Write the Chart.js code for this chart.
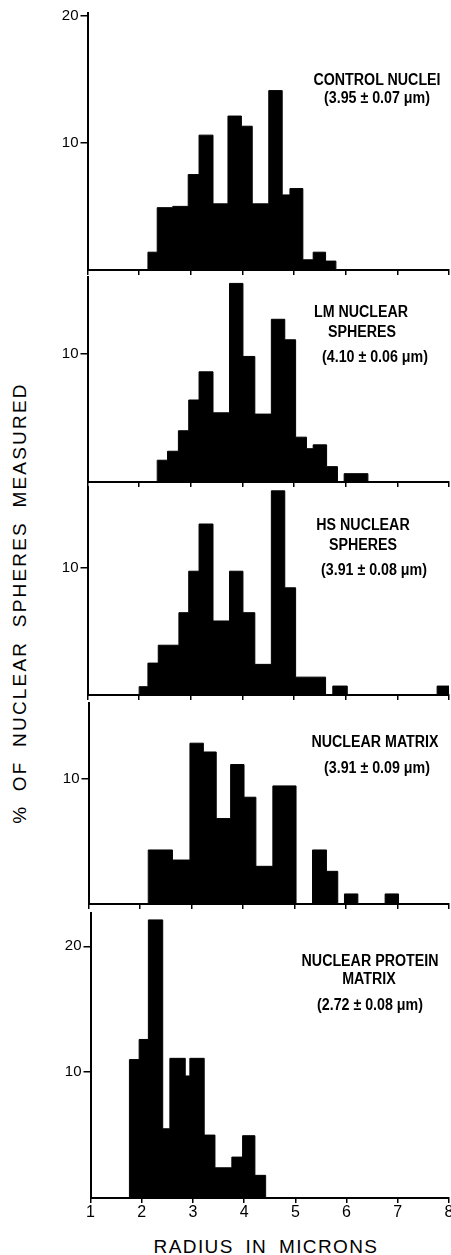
<!DOCTYPE html>
<html>
<head>
<meta charset="utf-8">
<script src="https://cdn.jsdelivr.net/npm/chart.js@4.4.1/dist/chart.umd.min.js"></script>
<style>
  html, body { margin: 0; padding: 0; background: #fff; overflow: hidden; }
  #lienzo { position: relative; width: 451px; height: 1255px; font-family: 'Liberation Sans', Arial, sans-serif; color: #000; }
  #lienzo canvas { position: absolute; left: 0; }
  .etiqueta { position: absolute; white-space: nowrap; font-size: 16px; font-weight: bold; line-height: 1; transform: translate(-50%, -50%) scaleX(0.89); }
  #titulo-y { position: absolute; left: 19px; top: 603px; font-size: 19px; letter-spacing: 2.2px; word-spacing: 6px; white-space: nowrap; line-height: 1; transform: translate(-50%, -50%) rotate(-90deg); }
  #titulo-x { position: absolute; left: 266px; top: 1246px; font-size: 19px; letter-spacing: 1.4px; word-spacing: 5px; white-space: nowrap; line-height: 1; transform: translate(-50%, -50%); }
</style>
</head>
<body>
<div id="lienzo">
  <div id="titulo-y">% OF NUCLEAR SPHERES MEASURED</div>
  <div id="titulo-x">RADIUS IN MICRONS</div>
</div>
<script>
const bordesControl = [2.17, 2.35, 2.65, 2.95, 3.16, 3.43, 3.72, 3.98, 4.19, 4.51, 4.77, 4.92, 5.17, 5.37, 5.61, 5.81];
const pctControl = [1.4, 4.9, 5.0, 7.5, 10.6, 5.2, 12.1, 11.3, 5.2, 14.1, 5.9, 6.4, 0.8, 1.4, 0.7];

const bordesLM = [2.35, 2.55, 2.76, 2.96, 3.16, 3.43, 3.75, 4.01, 4.24, 4.56, 4.82, 5.03, 5.24, 5.37, 5.63, 5.84, 5.97, 6.43];
const pctLM = [1.7, 2.4, 4.0, 6.4, 8.6, 5.4, 15.5, 9.8, 5.3, 12.7, 11.1, 3.5, 2.6, 2.9, 1.2, 0, 0.65];

const bordesHS = [2.0, 2.17, 2.37, 2.77, 2.96, 3.16, 3.43, 3.75, 4.01, 4.24, 4.56, 4.82, 5.03, 5.61, 5.75, 6.03, 7.77, 8.0];
const pctHS = [0.65, 2.5, 3.9, 6.45, 9.7, 13.4, 5.8, 9.7, 6.45, 2.4, 16.0, 8.4, 1.4, 0, 0.7, 0, 0.7];

const bordesMatriz = [2.16, 2.63, 2.97, 3.23, 3.48, 3.76, 4.02, 4.25, 4.58, 5.03, 5.35, 5.62, 5.84, 5.97, 6.23, 6.76, 7.02];
const pctMatriz = [4.3, 3.5, 12.8, 12.1, 6.8, 11.1, 8.5, 3.0, 9.4, 0, 4.3, 2.6, 0, 0.8, 0, 0.8];

const bordesProteina = [1.76, 1.95, 2.13, 2.41, 2.55, 2.85, 2.94, 3.22, 3.43, 3.76, 3.97, 4.21, 4.42];
const pctProteina = [11.0, 12.6, 22.1, 5.5, 11.1, 9.7, 11.1, 5.0, 2.4, 3.25, 4.95, 1.8];

// marcas de los ejes
const ticksX = [1, 2, 3, 4, 5, 6, 7, 8];
const ticksYControl = [10, 20];
const ticksYLM = [10];
const ticksYHS = [10];
const ticksYMatriz = [10];
const ticksYProteina = [10, 20];

// textos de cada panel
const textosControl = ['CONTROL NUCLEI', '(3.95 ± 0.07 μm)'];
const textosLM = ['LM NUCLEAR', 'SPHERES', '(4.10 ± 0.06 μm)'];
const textosHS = ['HS NUCLEAR', 'SPHERES', '(3.91 ± 0.08 μm)'];
const textosMatriz = ['NUCLEAR MATRIX', '(3.91 ± 0.09 μm)'];
const textosProteina = ['NUCLEAR PROTEIN', 'MATRIX', '(2.72 ± 0.08 μm)'];

// geometria de cada panel (px) y limite del eje y
const paneles = [
  { bordes: bordesControl, pct: pctControl, ticksY: ticksYControl, textos: textosControl,
    top: 13, bottom: 270, left: 87.5, yMax: 20.2, pos: [[377, 80], [377, 98]] },
  { bordes: bordesLM, pct: pctLM, ticksY: ticksYLM, textos: textosLM,
    top: 277, bottom: 482, left: 87.5, yMax: 16, pos: [[361, 312], [362, 332], [375, 357]] },
  { bordes: bordesHS, pct: pctHS, ticksY: ticksYHS, textos: textosHS,
    top: 487, bottom: 695, left: 87.5, yMax: 16.3, pos: [[363, 525], [363, 545], [374, 570]] },
  { bordes: bordesMatriz, pct: pctMatriz, ticksY: ticksYMatriz, textos: textosMatriz,
    top: 703, bottom: 904, left: 88.5, yMax: 16, pos: [[375, 742], [377, 768]] },
  { bordes: bordesProteina, pct: pctProteina, ticksY: ticksYProteina, textos: textosProteina,
    top: 913, bottom: 1198, left: 90.5, yMax: 22.65, pos: [[370, 961], [369, 979], [370, 1005]] },
];

Chart.defaults.font.family = "'Liberation Sans', Arial, sans-serif";
Chart.defaults.color = '#000';

// histograma como linea escalonada rellena
const aEscalones = (bordes, valores) => {
  const pts = [{ x: bordes[0], y: 0 }];
  valores.forEach((v, i) => pts.push({ x: bordes[i], y: v }));
  pts.push({ x: bordes[bordes.length - 1], y: 0 });
  return pts;
};

const lienzo = document.getElementById('lienzo');

paneles.forEach((p, i) => {
  const ultimo = i === paneles.length - 1;
  const margenSup = 10;
  const altoX = ultimo ? 34 : 8;

  const canvas = document.createElement('canvas');
  canvas.width = 451;
  canvas.height = (p.bottom - p.top) + margenSup + altoX;
  canvas.style.top = (p.top - margenSup) + 'px';
  lienzo.appendChild(canvas);

  new Chart(canvas, {
    type: 'line',
    data: {
      datasets: [{
        data: aEscalones(p.bordes, p.pct),
        stepped: true,
        fill: 'origin',
        backgroundColor: '#000',
        borderColor: '#000',
        borderWidth: 1,
        pointRadius: 0,
      }]
    },
    options: {
      responsive: false,
      animation: false,
      layout: { padding: { top: margenSup, right: 2, left: 0, bottom: 0 } },
      plugins: { legend: { display: false }, tooltip: { enabled: false } },
      scales: {
        x: {
          type: 'linear', min: 1, max: 8,
          afterBuildTicks: s => { s.ticks = ticksX.map(v => ({ value: v })); },
          afterFit: s => { s.height = altoX; s.paddingLeft = 0; s.paddingRight = 0; },
          ticks: { display: ultimo, font: { size: 16 }, padding: 0, maxRotation: 0 },
          grid: { drawOnChartArea: false, drawTicks: true, tickLength: 5, color: '#000', lineWidth: 1.5 },
          border: { display: true, color: '#000', width: 2 },
        },
        y: {
          min: 0, max: p.yMax,
          afterBuildTicks: s => { s.ticks = p.ticksY.map(v => ({ value: v })); },
          afterFit: s => { s.width = p.left; s.paddingTop = 0; s.paddingBottom = 0; },
          ticks: { font: { size: 15 }, padding: 2 },
          grid: { drawOnChartArea: false, drawTicks: true, tickLength: 7, color: '#000', lineWidth: 1.5 },
          border: { display: true, color: '#000', width: 2 },
        }
      }
    }
  });

  // rotulos del panel
  p.textos.forEach((t, j) => {
    const d = document.createElement('div');
    d.className = 'etiqueta';
    d.textContent = t;
    d.style.left = p.pos[j][0] + 'px';
    d.style.top = p.pos[j][1] + 'px';
    lienzo.appendChild(d);
  });
});
</script>
</body>
</html>
